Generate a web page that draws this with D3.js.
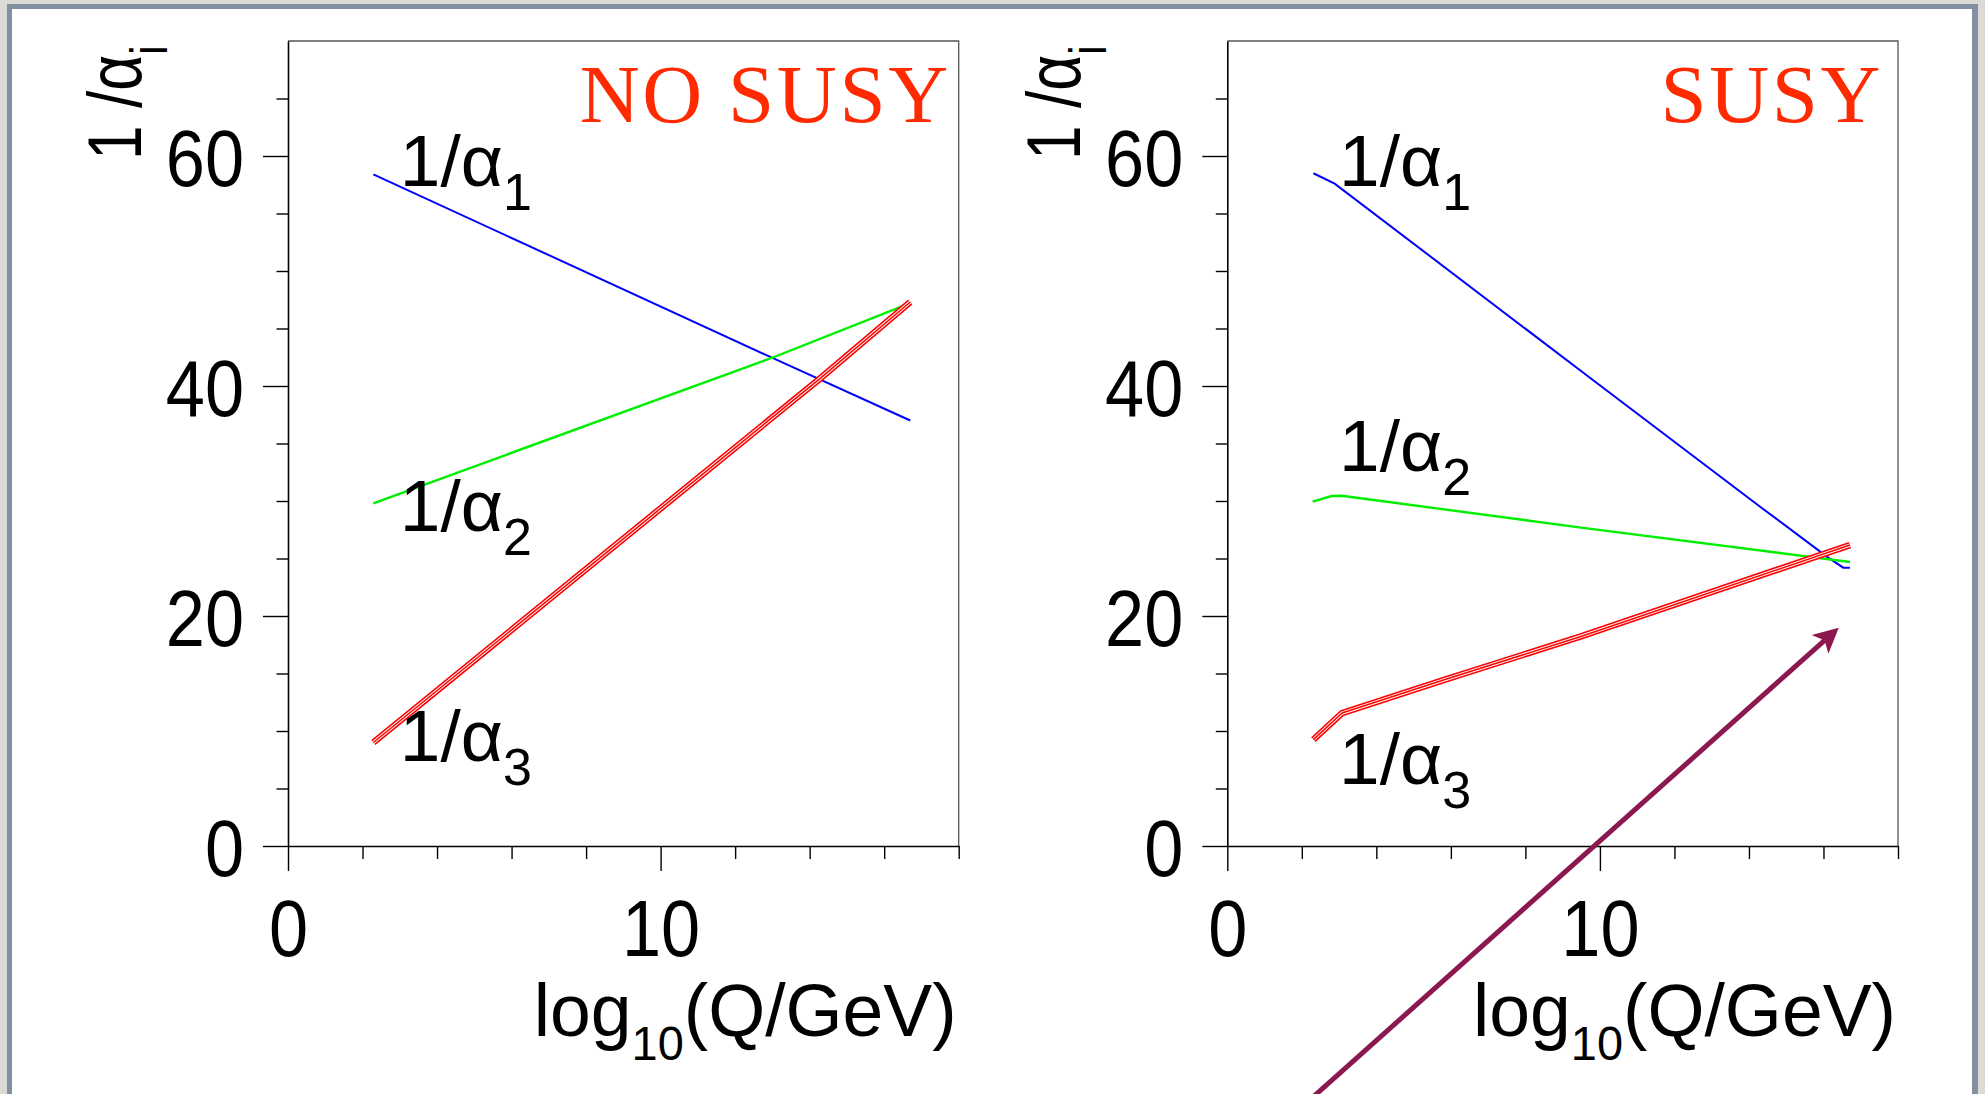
<!DOCTYPE html>
<meta charset="utf-8">
<head>
<style>
  body { margin: 0; background: #dcdad4; overflow: hidden; }
  svg { display: block; }
  text, tspan { font-family: "Liberation Sans", Arial, Helvetica, sans-serif; fill: #000; }
</style>
</head>
<script src="https://d3js.org/d3.v7.min.js"></script>
<div id="chart"></div>
<script>
// ---- data ----
var xTicksMajor = [0, 10];
var xTicksMinor = [2, 4, 6, 8, 12, 14, 16, 18];
var yTicksMajor = [0, 20, 40, 60];
var yTicksMinor = [5, 10, 15, 25, 30, 35, 45, 50, 55, 65];

// [log10(Q/GeV), 1/alpha]
var noSusyA1 = [[2.29, 58.4], [13.03, 42.4], [16.7, 37.0]];
var noSusyA2 = [[2.29, 29.8], [13.03, 42.5], [16.7, 47.2]];
var noSusyA3 = [[2.29, 9.0], [14.26, 40.6], [16.7, 47.3]];

var susyA1 = [[2.31, 58.5], [2.88, 57.6], [9.82, 40.5], [14.30, 29.5], [16.09, 25.16], [16.53, 24.2], [16.71, 24.2]];
var susyA2 = [[2.29, 29.94], [2.80, 30.43], [3.07, 30.46], [9.6, 27.64], [16.71, 24.7]];
var susyA3 = [[2.31, 9.25], [3.08, 11.56], [5.80, 14.43], [9.47, 18.2], [16.71, 26.17]];

var curveSubs = ["1", "2", "3"];
var noSusyLabelY = [57.4, 27.4, 7.4];
var susyLabelY = [57.4, 32.6, 5.4];
var labelX = 3.0;

// arrow in SUSY panel coordinates: [tail, tip]
var arrowPts = [[2.0, -22.7], [16.41, 18.98]];

var W = 1985, H = 1094;
var pw = 670.7, ph = 805;   // plot box size
var plotTop = 41;
var sx = 0.89;              // tick digits are a bit condensed

var svg = d3.select("#chart").append("svg")
  .attr("width", W).attr("height", H);

// slide frame
svg.append("rect").attr("x", 7).attr("y", 4).attr("width", 1971).attr("height", H + 20).attr("fill", "#8390a2");
svg.append("rect").attr("x", 12).attr("y", 9).attr("width", 1960).attr("height", H + 20).attr("fill", "#fff");

var panels = [
  {x0: 288, title: "NO SUSY", inset: 8, lines: [noSusyA1, noSusyA2, noSusyA3], labelY: noSusyLabelY},
  {x0: 1227.3, title: "SUSY", inset: 15, lines: [susyA1, susyA2, susyA3], labelY: susyLabelY}
];
var colors = ["#0000ff", "#00ee00", "#ff0000"];

var lastX, lastY, lastG;

panels.forEach(function(p) {
  var g = svg.append("g").attr("transform", "translate(" + p.x0 + "," + plotTop + ")");

  var x = d3.scaleLinear().domain([0, 18]).range([0, pw]);
  var y = d3.scaleLinear().domain([0, 70]).range([ph, 0]);

  // frame top / right
  g.append("path")
    .attr("d", "M0,0H" + pw + "V" + ph)
    .attr("fill", "none").attr("stroke", "#555").attr("stroke-width", 1.3);

  // minor ticks
  g.append("g").call(d3.axisLeft(y).tickValues(yTicksMinor).tickSize(11.5).tickFormat("").tickSizeOuter(0))
    .call(function(s) { s.select(".domain").remove(); });
  g.append("g").attr("transform", "translate(0," + ph + ")")
    .call(d3.axisBottom(x).tickValues(xTicksMinor).tickSize(13).tickFormat("").tickSizeOuter(0))
    .call(function(s) { s.select(".domain").remove(); });

  // major ticks + labels
  var ya = g.append("g").call(d3.axisLeft(y).tickValues(yTicksMajor).tickSize(25).tickSizeOuter(0));
  ya.selectAll("text").attr("font-size", 79).attr("x", -44 / sx).attr("dy", "0.37em")
    .attr("transform", "scale(" + sx + ",1)");
  var xa = g.append("g").attr("transform", "translate(0," + ph + ")")
    .call(d3.axisBottom(x).tickValues(xTicksMajor).tickSize(25).tickSizeOuter(0));
  xa.selectAll("text").attr("font-size", 79).attr("y", 110).attr("dy", 0)
    .attr("transform", "scale(" + sx + ",1)");
  g.selectAll(".tick line").attr("stroke", "#000").attr("stroke-width", 1.4);
  g.selectAll(".domain").attr("stroke", "#000").attr("stroke-width", 1.6);

  // curves
  var line = d3.line().x(function(d) { return x(d[0]); }).y(function(d) { return y(d[1]); });
  g.append("path").datum(p.lines[0]).attr("d", line)
    .attr("fill", "none").attr("stroke", colors[0]).attr("stroke-width", 2);
  g.append("path").datum(p.lines[1]).attr("d", line)
    .attr("fill", "none").attr("stroke", colors[1]).attr("stroke-width", 2.4);
  // alpha_3 band drawn as three thin red strands
  [[6.6, colors[2]], [3.4, "#fff"], [1.5, colors[2]]].forEach(function(s) {
    g.append("path").datum(p.lines[2]).attr("d", line)
      .attr("fill", "none").attr("stroke", s[1]).attr("stroke-width", s[0])
      .attr("stroke-linejoin", "round");
  });

  // curve labels
  p.labelY.forEach(function(v, i) {
    var t = g.append("text").attr("x", x(labelX)).attr("y", y(v)).attr("font-size", 73);
    t.append("tspan").text("1/\u03b1");
    t.append("tspan").attr("font-size", 52).attr("dy", 24).text(curveSubs[i]);
  });

  // panel title
  g.append("text").attr("x", pw - p.inset).attr("y", 81)
    .attr("text-anchor", "end")
    .style("font-family", "Liberation Serif, Times New Roman, serif")
    .style("letter-spacing", "2.6px")
    .attr("font-size", 83).style("fill", "#ff2a00")
    .text(p.title);

  // y title
  var yt = g.append("text")
    .attr("transform", "translate(-147,119) rotate(-90) scale(0.82,1)")
    .attr("font-size", 76);
  yt.append("tspan").text("1 /\u03b1");
  yt.append("tspan").attr("font-size", 52).attr("dy", 26).text("i");

  // x title
  var xt = g.append("text").attr("x", pw - 2).attr("y", ph + 190)
    .attr("text-anchor", "end").attr("font-size", 75)
    .attr("textLength", 423).attr("lengthAdjust", "spacingAndGlyphs");
  xt.append("tspan").text("log");
  xt.append("tspan").attr("font-size", 48).attr("dy", 24).style("fill", "#000").text("10");
  xt.append("tspan").attr("dy", -24).text("(Q/GeV)");

  lastX = x; lastY = y; lastG = g;
});

// arrow pointing at the SUSY unification point
var a0 = [lastX(arrowPts[0][0]), lastY(arrowPts[0][1])];
var a1 = [lastX(arrowPts[1][0]), lastY(arrowPts[1][1])];
var ang = Math.atan2(a1[1] - a0[1], a1[0] - a0[0]);
var back = 19;
lastG.append("line")
  .attr("x1", a0[0]).attr("y1", a0[1])
  .attr("x2", a1[0] - back * Math.cos(ang)).attr("y2", a1[1] - back * Math.sin(ang))
  .attr("stroke", "#8c1850").attr("stroke-width", 5);
lastG.append("path")
  .attr("d", "M0,0L-25,-12.5L-19,0L-25,12.5Z")
  .attr("transform", "translate(" + a1[0] + "," + a1[1] + ") rotate(" + (ang * 180 / Math.PI) + ")")
  .attr("fill", "#8c1850");
</script>
